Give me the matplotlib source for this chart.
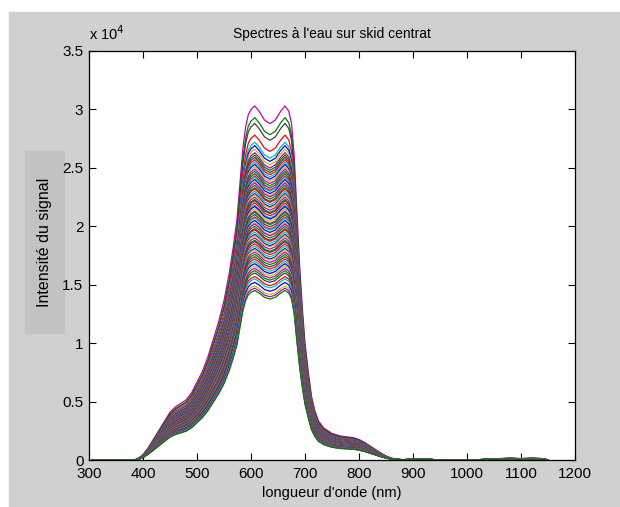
import numpy as np
import matplotlib
matplotlib.use('Agg')
import matplotlib.pyplot as plt
from matplotlib.patches import Rectangle
from matplotlib.ticker import FuncFormatter

# normalized spectrum shape (peak = 1)
wavelength = [305, 380, 390, 400, 410, 420, 430, 440, 450, 460, 470, 480, 490, 500,
              510, 520, 530, 540, 550, 560, 567, 574, 580, 585, 590, 595, 600, 607,
              615, 625, 635, 645, 655, 663, 670, 675, 680, 685, 690, 695, 700, 706,
              712, 718, 725, 735, 750, 765, 780, 790, 800, 810, 820, 830, 840, 850,
              860, 870, 880, 900, 920, 940, 960, 1000, 1040, 1060, 1080, 1100, 1120,
              1140, 1150]
shape = [0, 0, 0.002, 0.015, 0.035, 0.06, 0.085, 0.11, 0.135, 0.15, 0.16, 0.17, 0.19,
         0.22, 0.25, 0.29, 0.34, 0.39, 0.45, 0.53, 0.60, 0.68, 0.79, 0.88, 0.94, 0.975,
         0.99, 1.0, 0.985, 0.96, 0.95, 0.96, 0.985, 1.0, 0.985, 0.95, 0.86, 0.70, 0.55,
         0.43, 0.33, 0.25, 0.18, 0.14, 0.11, 0.09, 0.075, 0.068, 0.065, 0.063, 0.058,
         0.05, 0.04, 0.03, 0.02, 0.011, 0.005, 0.002, 0.001, 0.002, 0.003, 0.001, 0,
         0, 0.002, 0.004, 0.005, 0.004, 0.005, 0.004, 0]

# peak intensity of each spectrum (x 1e4)
peaks = [3.03, 2.93, 2.88, 2.78, 2.72, 2.69, 2.66, 2.63, 2.61, 2.59, 2.57, 2.55,
         2.53, 2.51, 2.49, 2.47, 2.45, 2.43, 2.42, 2.40, 2.38, 2.37, 2.35, 2.33,
         2.32, 2.30, 2.28, 2.27, 2.25, 2.23, 2.22, 2.20, 2.18, 2.17, 2.15, 2.13,
         2.12, 2.10, 2.08, 2.07, 2.05, 2.03, 2.02, 2.00, 1.98, 1.97, 1.95, 1.93,
         1.92, 1.90, 1.88, 1.87, 1.85, 1.83, 1.81, 1.80, 1.78, 1.76, 1.74, 1.72,
         1.70, 1.68, 1.66, 1.64, 1.62, 1.60, 1.57, 1.55, 1.52, 1.49, 1.47, 1.45]

colors = ['m', (0, 0.5, 0), (0.25, 0.25, 0.25), 'r', (0, 0.75, 0.75), 'b', (0.75, 0.75, 0)]

W, H = 620, 507
fig = plt.figure(figsize=(W / 100, H / 100), dpi=100)
fig.patch.set_facecolor('white')
fig.add_artist(Rectangle((9 / W, 0), 1, 1 - 12 / H, transform=fig.transFigure,
                         color='#d0d0d0', zorder=-10))
# grey box behind the y label
fig.add_artist(Rectangle((25 / W, 1 - 333 / H), 39 / W, 182 / H, transform=fig.transFigure,
                         color='#c2c2c2', zorder=-5))

ax = fig.add_axes([89 / W, 1 - 460 / H, (575 - 89) / W, (460 - 51) / H])
x = np.array(wavelength)
s = np.array(shape)
for i, p in enumerate(peaks):
    ax.plot(x, s * p * 1e4, color=colors[i % len(colors)], lw=0.9)

font = 'Liberation Sans'
ax.set_xlim(300, 1200)
ax.set_ylim(0, 3.5e4)
ax.set_xticks(np.arange(300, 1201, 100))
ax.set_yticks(np.arange(0, 3.51e4, 0.5e4))
ax.yaxis.set_major_formatter(FuncFormatter(lambda v, pos: '%g' % (v / 1e4)))
ax.tick_params(direction='in', length=5, width=0.8, top=True, right=True,
               labelsize=11)
ax.tick_params(axis='x', pad=5)
ax.tick_params(axis='y', pad=4)
for lab in ax.get_xticklabels() + ax.get_yticklabels():
    lab.set_family(font)
for sp in ax.spines.values():
    sp.set_linewidth(0.9)

ax.text(0.0, 1.02, 'x 10$^{4}$', transform=ax.transAxes, fontsize=10.5, family=font,
        ha='left', va='bottom')
fig.text(332 / W, 1 - 34 / H, "Spectres à l'eau sur skid centrat", ha='center',
         va='center', fontsize=10, family=font)
fig.text(332 / W, 1 - 493 / H, "longueur d'onde (nm)", ha='center', va='center',
         fontsize=10.5, family=font)
fig.text(45 / W, 1 - 242 / H, 'Intensité du signal', rotation=90, ha='center',
         va='center', fontsize=11.5, family=font)

fig.savefig('out.png', dpi=100)
